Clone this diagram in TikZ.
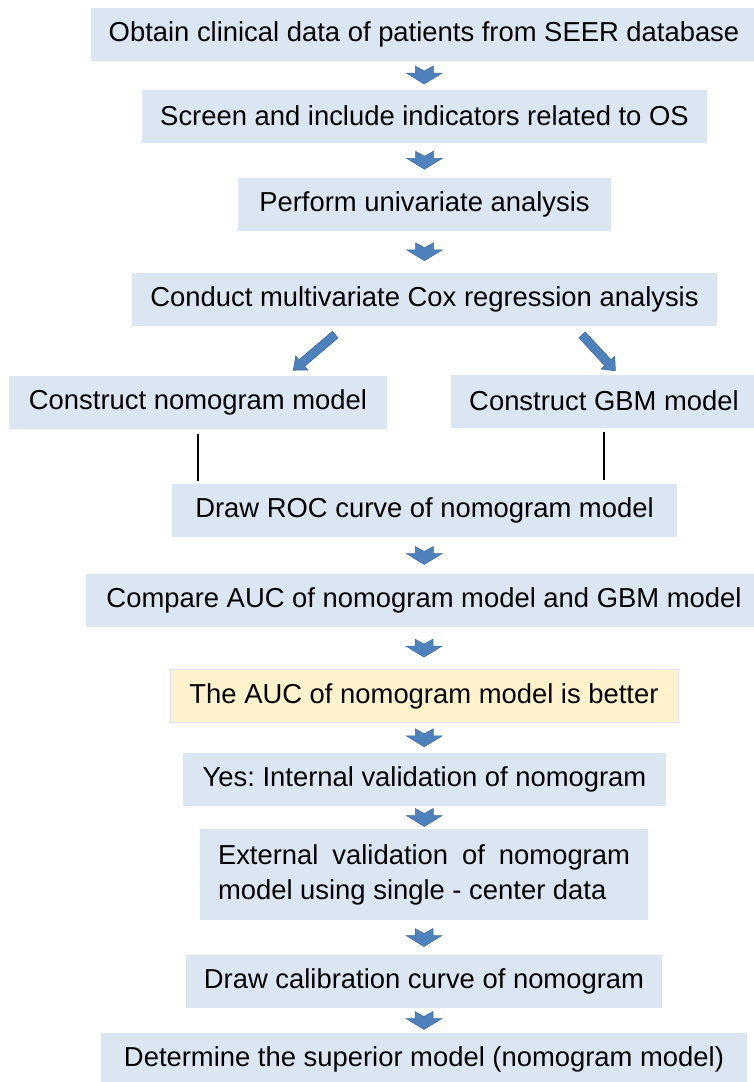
\documentclass[tikz,border=0pt]{standalone}
\usepackage{fontspec}
\setmainfont{Liberation Sans}
\frenchspacing
\usetikzlibrary{arrows.meta,calc,positioning,shapes.arrows}
\definecolor{boxblue}{HTML}{DCE6F2}
\definecolor{boxyellow}{HTML}{FFF2CC}
\definecolor{arrowblue}{HTML}{4F81BD}
\definecolor{arrowedge}{HTML}{3A6AA3}
\tikzset{
  flowbox/.style={rectangle,fill=boxblue,inner sep=0pt,minimum height=53pt,align=center,
    font=\fontsize{27.4}{35}\selectfont},
  resultbox/.style={flowbox,fill=boxyellow,draw=boxblue,line width=0.8pt},
  fatarrow/.style={single arrow,draw=arrowedge,fill=arrowblue,line width=0.6pt,inner sep=4pt,
    single arrow head extend=5pt,single arrow tip angle=80,sloped,allow upside down},
  link/.style={line width=1.2pt,black},
  downarrow/.pic={
    \draw[draw=arrowedge,fill=arrowblue,line width=0.5pt]
      (-9,-9) -- (0,-4) -- (9,-9) -- (9,-2) -- (18,-2) -- (0,9) -- (-18,-2) -- (-9,-2) -- cycle;
  }
}
\begin{document}
\begin{tikzpicture}[x=1pt,y=-1pt]
  \useasboundingbox (0,0) rectangle (753,1082);
  \node[flowbox,minimum width=666pt] (obtain) at (424,34) {Obtain clinical data of patients from SEER database};
  \node[flowbox,minimum width=565pt] (screen) at (424.5,116) {Screen and include indicators related to OS};
  \node[flowbox,minimum width=373pt] (univar) at (424.5,204.5) {Perform univariate analysis};
  \node[flowbox,minimum width=585pt] (cox) at (424.5,299) {Conduct multivariate Cox regression analysis};
  \node[flowbox,minimum width=378pt] (nomo) at (198,402.5) {Construct nomogram model};
  \node[flowbox,minimum width=306pt] (gbm) at (604,401) {Construct GBM model};
  \node[flowbox,minimum width=505pt] (roc) at (424.5,510.5) {Draw ROC curve of nomogram model};
  \node[flowbox,minimum width=676pt] (auc) at (424,600.5) {Compare AUC of nomogram model and GBM model};
  \node[resultbox,minimum width=508pt] (better) at (424,696) {The AUC of nomogram model is better};
  \node[flowbox,minimum width=483pt] (internal) at (424.5,779.5) {Yes: Internal validation of nomogram};
  \node[flowbox,minimum width=448pt,minimum height=91pt,text width=412pt,align=justify] (external) at (424,874.5)
    {External validation of nomogram model using single - center data};
  \node[flowbox,minimum width=476pt] (calib) at (424,981.5) {Draw calibration curve of nomogram};
  \node[flowbox,minimum width=646pt] (superior) at (424,1059.5) {Determine the superior model (nomogram model)};

  % small down arrows between the steps
  \foreach \a/\b in {obtain/screen,screen/univar,univar/cox,roc/auc,auc/better,
                     better/internal,internal/external,external/calib,calib/superior}
    \pic at ($(\a.south)!0.5!(\b.north)$) {downarrow};

  % split into the two models
  \path ([xshift=-87pt,yshift=-7pt]cox.south) -- node[fatarrow,minimum height=55pt]{} ([xshift=97pt,yshift=7pt]nomo.north);
  \path ([xshift=155.5pt,yshift=-7pt]cox.south) -- node[fatarrow,minimum height=49pt]{} ([xshift=10pt,yshift=5pt]gbm.north);

  \draw[link,shorten <=5pt,shorten >=3pt] (nomo.south) -- (nomo.south |- roc.north);
  \draw[link,shorten <=4pt,shorten >=4pt] (gbm.south) -- (gbm.south |- roc.north);
\end{tikzpicture}
\end{document}
